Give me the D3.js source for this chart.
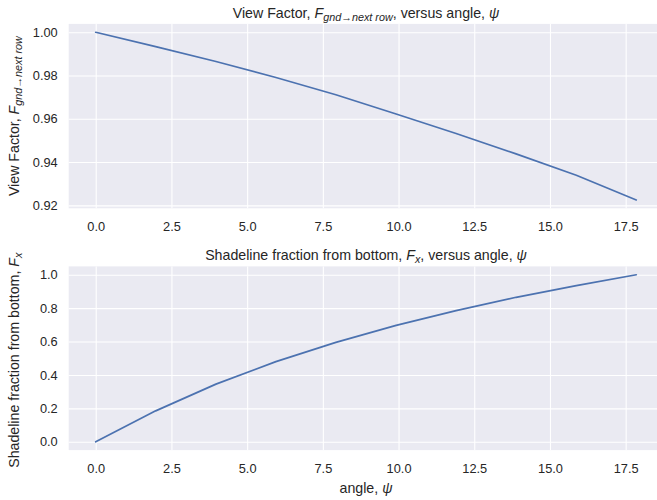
<!DOCTYPE html>
<html>
<head>
<meta charset="utf-8">
<script src="https://cdn.jsdelivr.net/npm/d3@7"></script>
<style>
  html, body { margin: 0; padding: 0; background: #ffffff; }
  svg { display: block; font-family: "Liberation Sans", Arial, sans-serif; }
</style>
</head>
<body>
<svg id="chart" width="657" height="500"></svg>
<script>
// Tilt angle samples (degrees)
const angles = [0, 1.98, 3.97, 5.95, 7.93, 9.92, 11.9, 13.88, 15.87, 17.85];
// View factor from ground to next row
const viewFactor = [1.0, 0.9934, 0.9865, 0.9791, 0.9711, 0.9622, 0.9532, 0.9438, 0.9339, 0.9225];
// Shadeline fraction from bottom of module
const shadeFraction = [0.0, 0.185, 0.345, 0.48, 0.595, 0.697, 0.785, 0.865, 0.935, 1.0];

const xTicks = [0, 2.5, 5, 7.5, 10, 12.5, 15, 17.5];
const vfTicks = [0.92, 0.94, 0.96, 0.98, 1.00];
const sfTicks = [0.0, 0.2, 0.4, 0.6, 0.8, 1.0];

const svg = d3.select("#chart");
const textColor = "#262626";
const bg = "#EAEAF2";
const lineColor = "#4C72B0";
const tickFont = 12.8;
const labelFont = 14.2;
const subFont = 10.8;

// pad a data extent by 5% on each side
function padded(lo, hi) {
  const m = (hi - lo) * 0.05;
  return [lo - m, hi + m];
}

const left = 68.7, right = 663.3;
const x = d3.scaleLinear().domain(padded(d3.min(angles), d3.max(angles))).range([left, right]);

function panel(opts) {
  const { values, ticks, fmt, top, bottom } = opts;
  const y = d3.scaleLinear().domain(padded(d3.min(values), d3.max(values))).range([bottom, top]);
  const g = svg.append("g");

  g.append("rect")
    .attr("x", left).attr("y", top)
    .attr("width", right - left).attr("height", bottom - top)
    .attr("fill", bg);

  // gridlines and tick labels
  g.append("g").attr("transform", `translate(0,${bottom})`)
    .call(d3.axisBottom(x).tickValues(xTicks).tickSize(-(bottom - top)).tickFormat(d3.format(".1f")).tickPadding(14))
    .call(a => a.select(".domain").remove())
    .call(a => a.selectAll("line").attr("stroke", "#ffffff").attr("stroke-width", 1.1))
    .call(a => a.selectAll("text").attr("fill", textColor).attr("font-size", tickFont).attr("font-family", "Liberation Sans, Arial, sans-serif"));

  g.append("g").attr("transform", `translate(${left},0)`)
    .call(d3.axisLeft(y).tickValues(ticks).tickSize(-(right - left)).tickFormat(d3.format(fmt)).tickPadding(11))
    .call(a => a.select(".domain").remove())
    .call(a => a.selectAll("line").attr("stroke", "#ffffff").attr("stroke-width", 1.1))
    .call(a => a.selectAll("text").attr("fill", textColor).attr("font-size", tickFont).attr("font-family", "Liberation Sans, Arial, sans-serif"));

  const line = d3.line().x((d, i) => x(angles[i])).y(d => y(d));
  g.append("path")
    .datum(values)
    .attr("d", line)
    .attr("fill", "none")
    .attr("stroke", lineColor)
    .attr("stroke-width", 1.7)
    .attr("stroke-linejoin", "round")
    .attr("stroke-linecap", "round");

  return { y, g };
}

const p1 = panel({ values: viewFactor, ticks: vfTicks, fmt: ".2f", top: 23.9, bottom: 208.3 });
const p2 = panel({ values: shadeFraction, ticks: sfTicks, fmt: ".1f", top: 266.4, bottom: 450.1 });

const cx = 366;

// text with math-style italics and subscripts
function mathText(sel, parts) {
  parts.forEach(p => {
    const t = sel.append("tspan").text(p.t);
    if (p.it) t.attr("font-style", "italic");
    if (p.sub) t.attr("font-size", subFont).attr("baseline-shift", "-25%").attr("font-style", "italic");
  });
}

const t1 = svg.append("text").attr("x", cx).attr("y", 18).attr("text-anchor", "middle")
  .attr("fill", textColor).attr("font-size", labelFont);
mathText(t1, [
  { t: "View Factor, " }, { t: "F", it: true }, { t: "gnd\u2192next row", sub: true },
  { t: ", versus angle, " }, { t: "\u03c8", it: true }
]);

const t2 = svg.append("text").attr("x", cx).attr("y", 260).attr("text-anchor", "middle")
  .attr("fill", textColor).attr("font-size", labelFont);
mathText(t2, [
  { t: "Shadeline fraction from bottom, " }, { t: "F", it: true }, { t: "x", sub: true },
  { t: ", versus angle, " }, { t: "\u03c8", it: true }
]);

// y-axis labels
const yl1 = svg.append("text")
  .attr("transform", `translate(19,${(23.9 + 208.3) / 2}) rotate(-90)`)
  .attr("text-anchor", "middle").attr("fill", textColor).attr("font-size", labelFont);
mathText(yl1, [{ t: "View Factor, " }, { t: "F", it: true }, { t: "gnd\u2192next row", sub: true }]);

const yl2 = svg.append("text")
  .attr("transform", `translate(19,${(266.4 + 450.1) / 2 + 2}) rotate(-90)`)
  .attr("text-anchor", "middle").attr("fill", textColor).attr("font-size", labelFont);
mathText(yl2, [{ t: "Shadeline fraction from bottom, " }, { t: "F", it: true }, { t: "x", sub: true }]);

// x-axis label
const xl = svg.append("text").attr("x", cx).attr("y", 493).attr("text-anchor", "middle")
  .attr("fill", textColor).attr("font-size", labelFont);
mathText(xl, [{ t: "angle, " }, { t: "\u03c8", it: true }]);
</script>
</body>
</html>
